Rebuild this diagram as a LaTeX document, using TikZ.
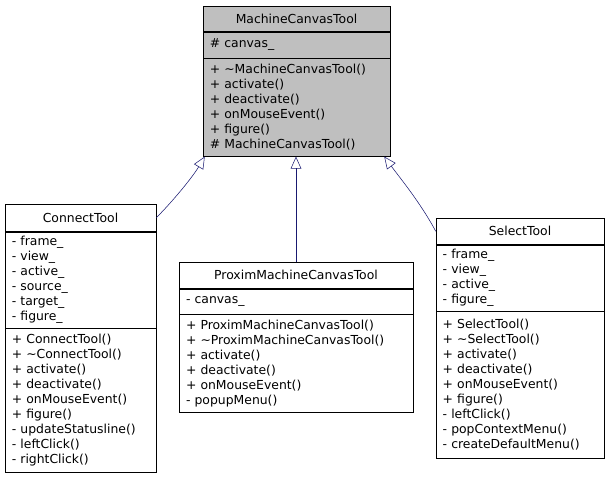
\documentclass[tikz,border=0pt]{standalone}
\usepackage{fontspec}
\setmainfont{DejaVu Sans}
\usetikzlibrary{positioning, arrows.meta}
\definecolor{basefill}{RGB}{191,191,191}
\definecolor{edgeblue}{RGB}{25,25,112}

\begin{document}
\begin{tikzpicture}[x=0.75pt, y=-0.75pt,
    part/.style={rectangle, draw=black, anchor=north, align=left, inner xsep=5pt,
        font=\fontsize{9.3}{11.25}\selectfont},
    title/.style={part, align=center},
    inherit/.style={edgeblue, -{Triangle[open, length=9pt, width=8pt]}}
]
\useasboundingbox (0,0) rectangle (609,477);

% base class
\node[title, fill=basefill, minimum width=140.25pt, minimum height=18.75pt, text width=130pt] (base_title) at (296.5,6) {MachineCanvasTool};
\node[part, fill=basefill, minimum width=140.25pt, minimum height=19.5pt, text width=130pt, below=0pt of base_title] (base_attr) {\# canvas\_};
\node[part, fill=basefill, minimum width=140.25pt, minimum height=73.5pt, text width=130pt, below=0pt of base_attr] (base_ops)
    {+ \textasciitilde MachineCanvasTool()\\+ activate()\\+ deactivate()\\+ onMouseEvent()\\+ figure()\\\# MachineCanvasTool()};

% ConnectTool
\node[title, fill=white, minimum width=113.25pt, minimum height=20.25pt, text width=103pt] (connect_title) at (80.5,204) {ConnectTool};
\node[part, fill=white, minimum width=113.25pt, minimum height=71.25pt, text width=103pt, below=0pt of connect_title] (connect_attr)
    {- frame\_\\- view\_\\- active\_\\- source\_\\- target\_\\- figure\_};
\node[part, fill=white, minimum width=113.25pt, minimum height=108pt, text width=103pt, below=0pt of connect_attr] (connect_ops)
    {+ ConnectTool()\\+ \textasciitilde ConnectTool()\\+ activate()\\+ deactivate()\\+ onMouseEvent()\\+ figure()\\- updateStatusline()\\- leftClick()\\- rightClick()};

% ProximMachineCanvasTool
\node[title, fill=white, minimum width=175.5pt, minimum height=19.5pt, text width=165pt] (proxim_title) at (296,262) {ProximMachineCanvasTool};
\node[part, fill=white, minimum width=175.5pt, minimum height=18.75pt, text width=165pt, below=0pt of proxim_title] (proxim_attr) {- canvas\_};
\node[part, fill=white, minimum width=175.5pt, minimum height=73.5pt, text width=165pt, below=0pt of proxim_attr] (proxim_ops)
    {+ ProximMachineCanvasTool()\\+ \textasciitilde ProximMachineCanvasTool()\\+ activate()\\+ deactivate()\\+ onMouseEvent()\\- popupMenu()};

% SelectTool
\node[title, fill=white, minimum width=126pt, minimum height=19.5pt, text width=116pt] (select_title) at (520,218) {SelectTool};
\node[part, fill=white, minimum width=126pt, minimum height=49.5pt, text width=116pt, below=0pt of select_title] (select_attr)
    {- frame\_\\- view\_\\- active\_\\- figure\_};
\node[part, fill=white, minimum width=126pt, minimum height=110.25pt, text width=116pt, below=0pt of select_attr] (select_ops)
    {+ SelectTool()\\+ \textasciitilde SelectTool()\\+ activate()\\+ deactivate()\\+ onMouseEvent()\\+ figure()\\- leftClick()\\- popContextMenu()\\- createDefaultMenu()};

% inheritance
\draw[inherit] (connect_title.east) .. controls (172,202) and (192,178) .. ([xshift=1.5pt]base_ops.south west);
\draw[inherit] (proxim_title.north) -- (proxim_title.north |- base_ops.south);
\draw[inherit] (select_title.west) .. controls (420,202) and (400,178) .. ([xshift=-4.5pt]base_ops.south east);

\end{tikzpicture}
\end{document}
